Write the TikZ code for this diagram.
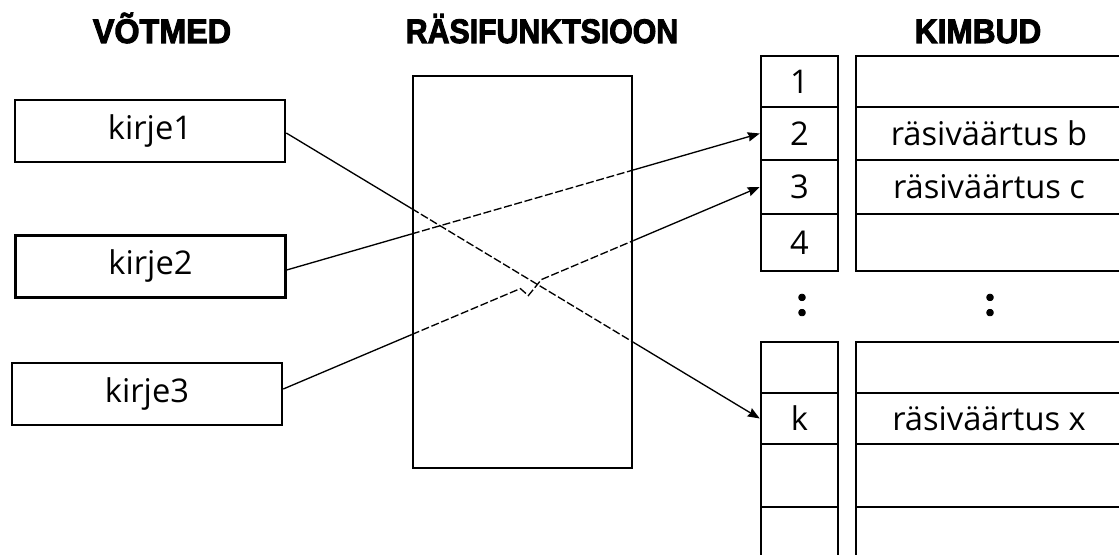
\documentclass[tikz,border=0pt]{standalone}
\usepackage{fontspec}
\usetikzlibrary{calc,arrows.meta}
\newfontfamily\bodyfont{Open Sans}
\newfontfamily\hdrfont{Liberation Sans}[BoldFeatures={FakeBold=3}]
\newfontfamily\dotfont{Lato}[BoldFeatures={FakeBold=2}]

\tikzset{
  frame/.style={draw, line width=1.9pt, inner sep=0pt,
    font=\bodyfont\fontsize{24.5}{28}\selectfont},
  keybox/.style={frame, minimum width=202.5pt, minimum height=46.5pt},
  idxcell/.style={frame, minimum width=57.75pt},
  valcell/.style={frame, minimum width=199.5pt},
  header/.style={anchor=base, inner sep=0pt,
    font=\hdrfont\bfseries\fontsize{25.5}{30}\selectfont},
  dots/.style={inner sep=0pt,
    font=\dotfont\bfseries\fontsize{32}{32}\selectfont},
  conn/.style={line width=1pt},
  dashseg/.style={conn, dash pattern=on 6pt off 2pt},
  tip/.style={conn, -{Stealth[length=9pt,width=7pt,inset=1pt]}}
}

\begin{document}
\begin{tikzpicture}[x=0.75pt, y=-0.75pt]
  \useasboundingbox (0,0) rectangle (1119,555);
  \fill[white] (0,0) rectangle (1119,555);
  \clip (0,0) rectangle (1119,555);

  % column headings
  \node[header] (hkeys) at (162,43) {\scalebox{0.95}[1]{VÕTMED}};
  \node[header] (hfun)  at (542,43) {\scalebox{0.89}[1]{RÄSIFUNKTSIOON}};
  \node[header] (hbuck) at (978,43) {\scalebox{0.93}[1]{KIMBUD}};

  % keys
  \node[keybox] (kirje1) at (150,131)   {kirje1};
  \node[keybox] (kirje2) at (150.5,266.5) {kirje2};
  \node[keybox] (kirje3) at (147,394)   {kirje3};

  % hash function
  \node[frame, minimum width=164.25pt, minimum height=294pt] (hf) at (522.5,272) {};

  % bucket table, upper part
  \node[idxcell, minimum height=38.25pt] (i1) at (799.5,81.5)  {1};
  \node[idxcell, minimum height=39.75pt] (i2) at (799.5,133.5) {2};
  \node[idxcell, minimum height=40.5pt]  (i3) at (799.5,187)   {3};
  \node[idxcell, minimum height=42.75pt] (i4) at (799.5,242.5) {4};
  \node[valcell, minimum height=38.25pt] (v1) at (989,81.5)  {};
  \node[valcell, minimum height=39.75pt] (v2) at (989,133.5) {räsiväärtus b};
  \node[valcell, minimum height=40.5pt]  (v3) at (989,187)   {räsiväärtus c};
  \node[valcell, minimum height=42.75pt] (v4) at (989,242.5) {};

  % continuation marks
  \node[dots] (gapi) at (802,305) {:};
  \node[dots] (gapv) at (990,305) {:};

  % bucket table, lower part
  \node[idxcell, minimum height=38.25pt] (i5) at (799.5,367.5) {};
  \node[idxcell, minimum height=38.25pt] (ik) at (799.5,418.5) {k};
  \node[idxcell, minimum height=47.25pt] (i7) at (799.5,475.5) {};
  \node[idxcell, minimum height=47.25pt] (i8) at (799.5,538.5) {};
  \node[valcell, minimum height=38.25pt] (v5) at (989,367.5) {};
  \node[valcell, minimum height=38.25pt] (vk) at (989,418.5) {räsiväärtus x};
  \node[valcell, minimum height=47.25pt] (v7) at (989,475.5) {};
  \node[valcell, minimum height=47.25pt] (v8) at (989,538.5) {};

  % connector end points
  \coordinate (s1) at ([yshift=-1.5pt]kirje1.east);
  \coordinate (s2) at ([yshift=-2.6pt]kirje2.east);
  \coordinate (s3) at ([yshift=3.75pt]kirje3.east);
  \coordinate (t1) at (ik.west);
  \coordinate (t2) at (i2.west);
  \coordinate (t3) at (i3.west);

  % sides of the hash function box
  \coordinate (hfNW) at (hf.north west);
  \coordinate (hfSW) at (hf.south west);
  \coordinate (hfNE) at (hf.north east);
  \coordinate (hfSE) at (hf.south east);

  \coordinate (l1) at (intersection of s1--t1 and hfNW--hfSW);
  \coordinate (r1) at (intersection of s1--t1 and hfNE--hfSE);
  \coordinate (l2) at (intersection of s2--t2 and hfNW--hfSW);
  \coordinate (r2) at (intersection of s2--t2 and hfNE--hfSE);
  \coordinate (l3) at (intersection of s3--t3 and hfNW--hfSW);
  \coordinate (r3) at (intersection of s3--t3 and hfNE--hfSE);

  % crossing of kirje1 and kirje3 connectors, with a small hop
  \coordinate (x13) at (intersection of s1--t1 and s3--t3);
  \coordinate (h1) at ($(x13)+(-14,6)$);
  \coordinate (h2) at ($(x13)+(-6,13)$);
  \coordinate (h3) at ($(x13)+(7,-3)$);

  % kirje1 -> k
  \draw[conn] (s1) -- (l1);
  \draw[dashseg] (l1) -- (r1);
  \draw[tip] (r1) -- (t1);

  % kirje2 -> 2
  \draw[conn] (s2) -- (l2);
  \draw[dashseg] (l2) -- (r2);
  \draw[tip] (r2) -- (t2);

  % kirje3 -> 3
  \draw[conn] (s3) -- (l3);
  \draw[dashseg] (l3) -- (h1) -- (h2) -- (h3) -- (r3);
  \draw[tip] (r3) -- (t3);
\end{tikzpicture}
\end{document}
